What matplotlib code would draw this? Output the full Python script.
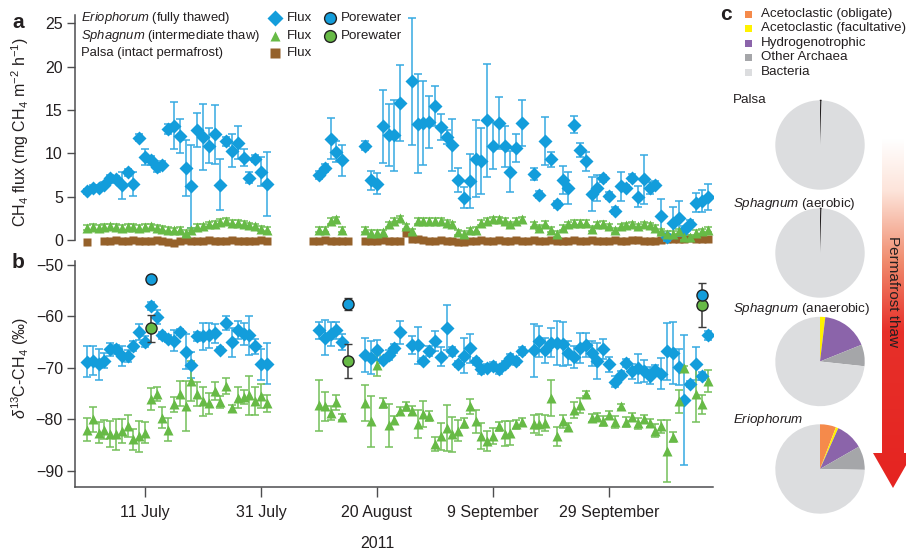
import numpy as np
import matplotlib
matplotlib.use('Agg')
import matplotlib.pyplot as plt
from matplotlib.colors import LinearSegmentedColormap
from matplotlib.patches import Polygon

plt.rcParams['font.family'] = ['Liberation Sans', 'DejaVu Sans']
plt.rcParams['mathtext.fontset'] = 'custom'
plt.rcParams['mathtext.rm'] = 'Liberation Sans'
plt.rcParams['mathtext.it'] = 'Liberation Sans:italic'
plt.rcParams['mathtext.bf'] = 'Liberation Sans:bold'

W, H = 906, 551
TXT = '#231F20'
AXC = '#4D4D4F'
BLUE = '#139DDB'
BLUE_ERR = '#35AAE2'
GREEN = '#67BA46'
GREEN_ERR = '#74C05A'
BROWN = '#95612A'


def day_spans(*spans):
    # sampling days (day of year 2011) for each run of measurements
    out = []
    for a, b in spans:
        out += list(range(a, b + 1))
    return np.array(out)


# ---- dates
tick_days = [192, 212, 232, 252, 272]
tick_labels = ['11 July', '31 July', '20 August', '9 September', '29 September']

erio_days = day_spans((182, 213), (222, 226), (230, 236), (238, 257), (259, 289))
sphag_flux_days = day_spans((182, 213), (222, 226), (230, 257), (259, 289))
palsa_days = day_spans((182, 182), (185, 213), (221, 227), (230, 289))
sphag_c13_days = day_spans((182, 213), (222, 226), (230, 257), (259, 285), (287, 289))
pore_days = [193, 227, 288]

# ---- CH4 flux (mg CH4 m-2 h-1)
erio_flux = [5.6, 6.0, 6.0, 6.4, 7.1, 7.0, 6.3, 7.8, 6.5, 11.8, 9.6, 9.2, 8.4, 8.7, 12.8, 13.2,
             12.0, 8.3, 6.2, 12.7, 11.9, 10.9, 12.2, 6.4, 11.4, 10.3, 11.2, 9.5, 7.2, 9.4, 7.9, 6.5,
             7.5, 8.3, 11.7, 10.2, 9.2,
             10.9, 6.9, 6.5, 13.1, 12.1, 12.1, 15.8,
             18.3, 13.4, 13.5, 13.6, 15.5, 13.0, 11.9, 11.0, 6.9, 4.9, 6.8, 9.4, 9.1, 13.8, 10.9,
             13.5, 10.8, 7.9, 10.6, 13.5,
             7.6, 5.2, 11.4, 9.3, 4.1, 6.9, 6.0, 13.3, 10.4, 9.1, 5.3, 6.0, 7.1, 5.1, 3.4, 6.2,
             6.0, 7.2, 5.0, 7.0, 6.0, 6.4, 2.8, 0.3, 2.0, 2.5, 1.2, 1.9, 4.3, 4.5, 5.0]
erio_flux_err = [0.3, 0.3, 0.3, 0.3, 0.4, 0.4, 1.6, 0.4, 1.4, 0.4, 0.9, 0.5, 0.5, 0.4, 0.6, 2.7,
                 2.0, 3.2, 4.8, 2.0, 3.8, 2.0, 3.4, 2.9, 0.5, 1.9, 1.9, 1.0, 0.6, 0.4, 1.7, 3.7,
                 0.5, 0.5, 2.4, 1.2, 1.8,
                 0.5, 1.1, 1.2, 4.2, 3.6, 4.1, 4.4,
                 7.3, 5.7, 4.8, 3.0, 2.3, 1.5, 0.8, 3.0, 1.4, 1.2, 3.1, 4.4, 3.8, 6.5, 2.7,
                 3.0, 2.4, 2.4, 1.6, 2.6,
                 0.7, 0.4, 2.8, 0.9, 0.4, 1.6, 1.9, 1.0, 0.8, 1.1, 2.0, 1.5, 0.4, 0.4, 0.4, 1.7,
                 0.4, 0.4, 1.2, 2.8, 0.7, 0.4, 1.9, 0.4, 1.8, 2.0, 0.4, 0.4, 1.1, 1.3, 1.5]
sphag_flux = [1.4, 1.5, 1.4, 1.5, 1.6, 1.5, 1.4, 1.5, 1.5, 1.4, 1.5, 1.6, 1.4, 1.3, 1.2, 1.1,
              1.2, 0.8, 1.1, 1.5, 1.6, 1.8, 1.9, 2.1, 2.2, 2.0, 2.0, 1.9, 1.7, 1.6, 1.3, 1.2,
              1.2, 1.2, 2.2, 2.4, 1.2,
              1.2, 0.8, 0.8, 0.9, 1.8, 2.2, 2.5, 1.6, 1.0, 2.2, 2.2, 2.2, 2.2, 2.2, 2.0, 1.8,
              0.9, 0.7, 1.1, 1.2, 2.0, 2.2, 2.4, 2.4, 2.2, 1.8, 2.2, 2.4,
              1.8, 1.4, 1.9, 1.2, 0.7, 1.4, 1.8, 2.0, 2.0, 2.0, 1.3, 1.8, 1.9, 1.6, 1.1, 1.6,
              1.7, 1.8, 1.6, 1.8, 1.7, 1.4, 1.0, 0.7, 0.7, 1.0, 0.3, 0.3, 0.8, 1.0, 1.2]
SPHAG_FLUX_ERR = 0.3
palsa_flux = [-0.2,
              -0.1, -0.1, 0.0, -0.1, -0.1, 0.0, -0.1, -0.1, -0.1, 0.0, -0.1, -0.2, -0.3, -0.1,
              0.0, -0.1, -0.1, -0.1, 0.0, -0.1, -0.1, -0.1, 0.0, -0.1, -0.1, -0.1, -0.1, 0.0, -0.1,
              -0.1, -0.1, 0.0, -0.1, -0.1, -0.1, -0.1,
              -0.1, -0.1, -0.1, 0.0, -0.1, -0.1, -0.1, 0.8,
              0.1, 0.1, 0.0, -0.1, -0.1, 0.0, -0.1, -0.1, -0.2, -0.2, -0.1, -0.1, 0.0, -0.1,
              -0.1, 0.0, -0.1, -0.1, 0.0, -0.1,
              -0.1, 0.0, -0.1, -0.1, 0.0, -0.1, -0.1, -0.1, 0.0, -0.1, -0.1, 0.0, -0.1, -0.1,
              -0.1, 0.0, -0.1, -0.1, 0.0, 0.0, -0.1, -0.1, -0.1, 0.0, 0.1, 0.1, 0.1, 0.1, 0.2,
              0.1, 0.1, 0.1]

# ---- delta 13C of emitted CH4 (permil)
erio_c13 = [-68.8, -68.6, -69.3, -68.6, -66.4, -66.4, -67.7, -67.7, -65.7, -63.0, -64.9, -57.9,
            -60.1, -63.7, -64.3, -64.7, -63.0, -66.9, -69.4, -63.9, -63.9, -63.7, -63.3, -66.5,
            -61.3, -65.0, -62.6, -63.4, -63.7, -65.8, -69.3, -69.2,
            -62.7, -64.1, -63.4, -62.7, -65.0,
            -67.5, -68.0, -66.5, -68.4, -67.5, -66.2, -63.1,
            -65.6, -65.6, -68.7, -66.7, -64.8, -67.8, -62.2, -66.8, -69.2, -67.6, -66.2, -68.7,
            -70.3, -70.0, -69.6, -70.3, -69.3, -68.1, -68.7, -66.7,
            -66.6, -64.8, -66.6, -65.1, -65.1, -65.3, -67.1, -67.9, -66.1, -65.5, -67.2, -68.6,
            -66.3, -69.3, -72.7, -71.3, -69.1, -70.7, -70.1, -70.6, -71.5, -70.5, -71.1, -66.8,
            -67.1, -69.9, -76.3, -73.2, -69.2, -71.6, -63.7]
erio_c13_err = [3.0, 2.8, 3.0, 1.5, 1.3, 0.9, 2.0, 1.2, 1.0, 1.6, 1.1, 0.8, 1.3, 0.7, 0.6, 2.0,
                0.6, 3.4, 2.5, 0.9, 2.7, 2.4, 1.8, 0.5, 1.3, 2.8, 1.7, 2.1, 3.8, 1.5, 3.0, 4.0,
                1.7, 3.4, 2.3, 1.7, 1.5,
                3.4, 3.2, 2.0, 0.6, 1.0, 0.9, 2.3,
                1.7, 3.6, 0.6, 0.9, 2.0, 1.9, 4.4, 0.8, 0.6, 3.4, 2.8, 0.7, 0.8, 0.7, 0.7, 0.8,
                0.7, 0.8, 0.7, 0.8,
                5.2, 3.0, 2.5, 2.8, 4.3, 4.3, 2.4, 2.1, 2.9, 2.3, 2.4, 3.5, 2.0, 1.5, 1.1, 0.7,
                0.8, 1.5, 2.8, 2.2, 1.6, 1.1, 3.1, 5.5, 6.0, 3.5, 12.6, 0.6, 3.2, 0.7, 0.8]
sphag_c13 = [-82.0, -80.0, -82.6, -82.0, -82.9, -82.9, -82.3, -81.3, -83.9, -83.3, -82.6, -76.0,
             -75.1, -79.7, -82.0, -77.1, -75.0, -77.4, -72.5, -75.1, -76.5, -76.9, -74.5, -76.7,
             -73.5, -77.9, -75.8, -75.7, -75.3, -76.5, -75.5, -76.9,
             -77.3, -77.5, -78.8, -76.7, -79.6,
             -76.8, -80.4, -69.5, -76.9, -81.2, -80.1, -78.4, -77.5, -78.3, -80.9, -79.0, -79.3,
             -84.8, -83.3, -81.7, -82.9, -82.2, -80.7, -77.5, -80.4, -83.3, -84.2, -83.3, -81.4,
             -82.8, -82.7, -81.0, -80.6,
             -80.9, -81.0, -80.7, -75.8, -83.3, -80.4, -81.5, -78.2, -77.3, -75.0, -79.7, -79.5,
             -80.4, -79.1, -80.5, -77.5, -80.5, -79.5, -80.8, -79.9, -80.7, -82.2, -81.4, -86.1,
             -83.5, -76.5, -70.1, -75.0, -77.1, -72.5]
sphag_c13_err = [2.3, 2.4, 2.0, 1.8, 2.5, 3.0, 2.4, 2.1, 2.1, 3.0, 2.1, 2.1, 1.3, 2.0, 2.3, 1.5,
                 2.4, 4.9, 3.9, 2.3, 2.8, 2.0, 1.8, 1.2, 1.5, 0.6, 2.0, 1.3, 3.8, 2.7, 2.3, 1.7,
                 4.9, 2.9, 1.3, 1.5, 0.6,
                 3.5, 5.0, 2.0, 1.0, 4.2, 0.8, 0.8, 0.8, 0.8, 2.8, 2.5, 1.0, 1.4, 2.6, 4.5, 3.4,
                 2.0, 1.0, 1.5, 2.2, 2.5, 1.9, 1.6, 0.8, 2.4, 2.3, 0.8, 0.8,
                 1.8, 2.1, 1.6, 3.5, 1.8, 1.3, 0.8, 1.5, 1.5, 0.5, 0.8, 0.8, 1.0, 0.8, 1.2, 0.5,
                 1.0, 0.8, 1.0, 0.8, 0.8, 1.2, 1.3, 6.0, 1.0, 2.2, 0.5, 5.5, 1.8, 2.1]
pore_erio = [-52.8, -57.6, -55.9]
pore_erio_err = [0.0, 1.1, 0.0]
pore_sphag = [-62.3, -68.6, -57.8]
pore_sphag_err = [2.6, 3.3, 4.3]

# ---- community composition (% of 16S reads)
pie_groups = ['Acetoclastic (obligate)', 'Acetoclastic (facultative)', 'Hydrogenotrophic',
              'Other Archaea', 'Bacteria']
pie_colors = ['#F58A4B', '#FFF200', '#8B64AA', '#A5A6A9', '#DCDDDF']
pie_sites = [r'Palsa', r'$\it{Sphagnum}$ (aerobic)', r'$\it{Sphagnum}$ (anaerobic)',
             r'$\it{Eriophorum}$']
pie_palsa = [0, 0, 0, 0.5, 99.5]
pie_sphag_aer = [0, 0, 0, 0.5, 99.5]
pie_sphag_anaer = [0, 1.9, 17.0, 7.8, 73.3]
pie_erio = [5.8, 0.9, 10.0, 8.6, 74.7]

fig = plt.figure(figsize=(W / 100, H / 100), dpi=100)


def px_axes(x0, y0, x1, y1, **kw):
    # axes placed by pixel box (origin top-left)
    return fig.add_axes([x0 / W, 1 - y1 / H, (x1 - x0) / W, (y1 - y0) / H], **kw)


def style_axis(ax):
    for s in ['top', 'right']:
        ax.spines[s].set_visible(False)
    for s in ['left', 'bottom']:
        ax.spines[s].set_color(AXC)
        ax.spines[s].set_linewidth(1.1)
    ax.tick_params(axis='y', direction='out', length=6, width=1, color=AXC, pad=3,
                   labelsize=11.5, labelcolor=TXT)
    ax.tick_params(axis='x', direction='out', length=7.5, width=1, color=AXC, pad=6,
                   labelsize=11.5, labelcolor=TXT)
    ax.set_facecolor('none')


err_kw = dict(elinewidth=1.1, capsize=2.8, capthick=1.1, linestyle='none')
DIA_MS = 6.8
TRI_MS = 7.2

# a: methane flux
axa = px_axes(75.4, 14.7, 713.4, 245.2)
style_axis(axa)
axa.spines['bottom'].set_visible(False)
axa.set_xlim(180, 290)
axa.set_ylim(-0.6, 26)
axa.spines['left'].set_bounds(0, 26)
axa.set_xticks([])
axa.set_yticks([0, 5, 10, 15, 20, 25])
axa.plot(palsa_days, palsa_flux, 's', ms=6, color=BROWN, mec='none', clip_on=False)
axa.errorbar(erio_days, erio_flux, yerr=erio_flux_err, fmt='D', ms=DIA_MS, color=BLUE,
             mec='none', ecolor=BLUE_ERR, **err_kw)
axa.errorbar(sphag_flux_days, sphag_flux, yerr=SPHAG_FLUX_ERR, fmt='^', ms=TRI_MS, color=GREEN,
             mec='none', ecolor=GREEN_ERR, **err_kw)

# b: isotopic signature
axb = px_axes(75.4, 260.7, 713.4, 486.7)
style_axis(axb)
axb.set_xlim(180, 290)
axb.set_ylim(-93.11, -49.16)
axb.set_yticks([-50, -60, -70, -80, -90])
axb.set_xticks(tick_days)
axb.set_xticklabels(tick_labels)
axb.errorbar(erio_days, erio_c13, yerr=erio_c13_err, fmt='D', ms=DIA_MS, color=BLUE,
             mec='none', ecolor=BLUE_ERR, **err_kw)
axb.errorbar(sphag_c13_days, sphag_c13, yerr=sphag_c13_err, fmt='^', ms=TRI_MS, color=GREEN,
             mec='none', ecolor=GREEN_ERR, **err_kw)
axb.errorbar(pore_days, pore_sphag, yerr=pore_sphag_err, fmt='o', ms=8, color=GREEN,
             mec='#222222', mew=1, ecolor='#3A3A3A', zorder=5, **err_kw)
axb.errorbar(pore_days, pore_erio, yerr=pore_erio_err, fmt='o', ms=8, color=BLUE,
             mec='#222222', mew=1, ecolor='#3A3A3A', zorder=5, **err_kw)

# overlay in pixel coordinates for labels, legend and arrow
ov = fig.add_axes([0, 0, 1, 1], zorder=10)
ov.set_xlim(0, W)
ov.set_ylim(H, 0)
ov.axis('off')

for lab, x, y in [('a', 12, 22), ('b', 12, 263), ('c', 720, 15)]:
    ov.text(x, y, lab, fontsize=15, fontweight='bold', color=TXT, va='center')

ov.text(20, 132, r'CH$_4$ flux (mg CH$_4$ m$^{-2}$ h$^{-1}$)', rotation=90, fontsize=11.5,
        color=TXT, ha='center', va='center')
ov.text(20, 368, r'$\delta^{13}$C-CH$_4$ (‰)', rotation=90, fontsize=11.5, color=TXT,
        ha='center', va='center')
ov.text(377, 543, '2011', fontsize=11.5, color=TXT, ha='center', va='center')

# legend for a and b
leg_rows = [(18, r'$\it{Eriophorum}$ (fully thawed)', 'D', BLUE, 8.5),
            (36, r'$\it{Sphagnum}$ (intermediate thaw)', '^', GREEN, 7),
            (53, 'Palsa (intact permafrost)', 's', BROWN, 6.5)]
for y, name, mk, col, ms in leg_rows:
    ov.text(81, y, name, fontsize=9.4, color=TXT, va='center')
    ov.plot(275, y, mk, ms=ms, color=col, mec='none')
    ov.text(287, y, 'Flux', fontsize=9.6, color=TXT, va='center')
for y, col in [(18, BLUE), (36, GREEN)]:
    ov.plot(330, y, 'o', ms=8.5, color=col, mec='#222222', mew=1)
    ov.text(341, y, 'Porewater', fontsize=9.6, color=TXT, va='center')

# c: legend of microbial groups
for i, (g, c) in enumerate(zip(pie_groups, pie_colors)):
    y = 14 + i * 14.5
    ov.add_patch(plt.Rectangle((745, y - 3.5), 7, 7, color=c, lw=0))
    ov.text(761, y, g, fontsize=9.6, color=TXT, va='center')

# pies
pie_centres = [145, 253, 361.5, 469]
pie_label_y = [100, 204, 309, 420]
pie_data = [pie_palsa, pie_sphag_aer, pie_sphag_anaer, pie_erio]
R = 44.7
for cy, ly, vals, site in zip(pie_centres, pie_label_y, pie_data, pie_sites):
    ov.text(733, ly, site, fontsize=9.6, color=TXT, va='center')
    axp = px_axes(820 - R, cy - R, 820 + R, cy + R)
    wedges, _ = axp.pie(vals, colors=pie_colors, startangle=90, counterclock=False,
                        wedgeprops=dict(linewidth=0))
    if vals[3] < 1:
        wedges[3].set_edgecolor('#231F20')
        wedges[3].set_linewidth(0.8)
    axp.set_xlim(-1, 1)
    axp.set_ylim(-1, 1)
    axp.set_aspect('equal')

# permafrost thaw arrow with white-to-red gradient
arrow_pts = [(882, 138), (882, 453), (873, 453), (893, 488), (913, 453), (904, 453), (904, 138)]
arrow = Polygon(arrow_pts, closed=True, facecolor='none', edgecolor='none')
ov.add_patch(arrow)
thaw_cmap = LinearSegmentedColormap.from_list(
    'thaw', [(0, '#FFFFFF'), (0.15, '#FDE4DA'), (0.35, '#F08C6E'), (0.55, '#E7302A'),
             (1, '#E52421')])
grad = np.linspace(0, 1, 256).reshape(-1, 1)
img = ov.imshow(grad, cmap=thaw_cmap, aspect='auto', extent=(870, 915, 488, 138),
                origin='upper', interpolation='bilinear')
img.set_clip_path(arrow)
ov.set_xlim(0, W)
ov.set_ylim(H, 0)
ov.text(893, 292, 'Permafrost thaw', rotation=-90, fontsize=11, color=TXT,
        ha='center', va='center')

fig.savefig('out.png', dpi=100)
